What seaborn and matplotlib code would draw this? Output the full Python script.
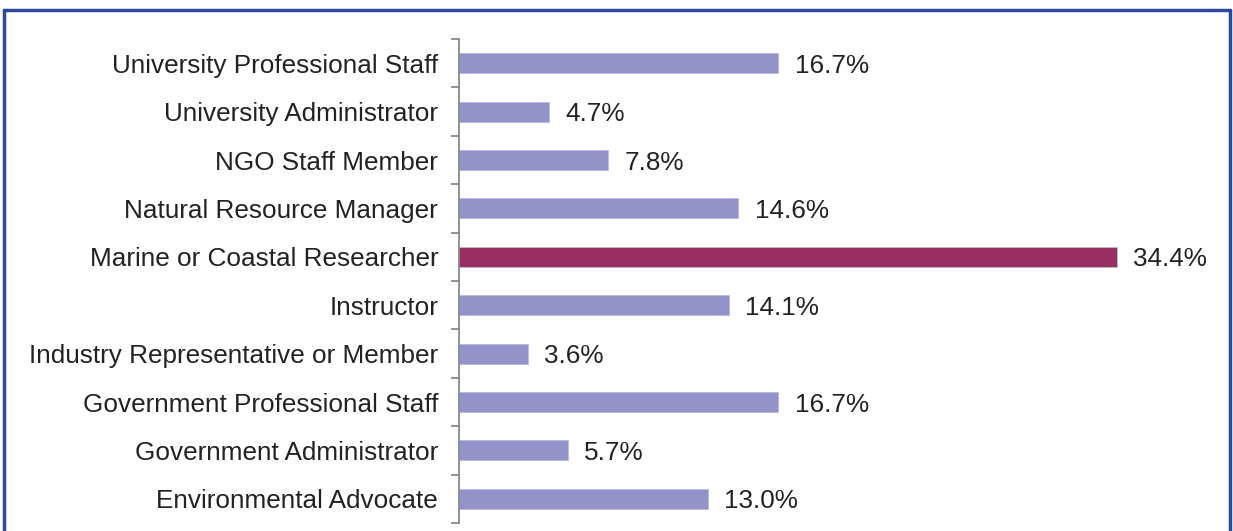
import matplotlib
matplotlib.use("Agg")
import matplotlib.pyplot as plt
import seaborn as sns
import pandas as pd
import numpy as np

categories = [
    "University Professional Staff",
    "University Administrator",
    "NGO Staff Member",
    "Natural Resource Manager",
    "Marine or Coastal Researcher",
    "Instructor",
    "Industry Representative or Member",
    "Government Professional Staff",
    "Government Administrator",
    "Environmental Advocate",
]
values = [16.7, 4.7, 7.8, 14.6, 34.4, 14.1, 3.6, 16.7, 5.7, 13.0]
labels = ["16.7%", "4.7%", "7.8%", "14.6%", "34.4%", "14.1%", "3.6%", "16.7%", "5.7%", "13.0%"]
highlight = "Marine or Coastal Researcher"

sns.set_theme(style="white")
plt.rcParams["font.family"] = ["Liberation Sans", "DejaVu Sans"]

df = pd.DataFrame({"category": categories, "value": values})
df["group"] = np.where(df["category"] == highlight, "hi", "lo")

W, H = 1233, 531
fig = plt.figure(figsize=(W / 100, H / 100), dpi=100)
fig.patch.set_facecolor("white")

left_px, right_px = 459, 1200
top_px, bot_px = 39, 523
ax = fig.add_axes([left_px / W, 1 - bot_px / H, (right_px - left_px) / W, (bot_px - top_px) / H])

sns.barplot(data=df, y="category", x="value", hue="group", order=categories,
            palette={"lo": "#9393c9", "hi": "#992e62"}, dodge=False, legend=False,
            saturation=1, width=0.41, edgecolor="#b8b8dc", linewidth=0.6, ax=ax, orient="h")

px_per_unit = 19.13
ax.set_xlim(0, (right_px - left_px) / px_per_unit)
ax.set_ylim(len(categories) - 0.5, -0.5)

fs = 18.8
for i, (v, lab) in enumerate(zip(values, labels)):
    ax.text(v + 0.85, i, lab, va="center_baseline", ha="left", fontsize=fs, color="#222222")

ax.set_xlabel("")
ax.set_ylabel("")
ax.set_xticks([])
ax.set_yticks(range(len(categories)))
ax.set_yticklabels(categories, fontsize=fs, color="#222222")
ax.tick_params(axis="y", which="major", length=0, pad=15)
ax.set_yticks(np.arange(-0.5, len(categories), 1.0), minor=True)
ax.tick_params(axis="y", which="minor", length=6, width=1.2, color="#808080", direction="out", left=True)
for s in ["top", "right", "bottom"]:
    ax.spines[s].set_visible(False)
ax.spines["left"].set_color("#808080")
ax.spines["left"].set_linewidth(1.2)

# blue frame around the figure (bottom cut off)
frame_color = "#2b4a9b"
fig.add_artist(plt.Line2D([4 / W, 4 / W], [0, 1 - 10 / H], color=frame_color, lw=2.5, transform=fig.transFigure))
fig.add_artist(plt.Line2D([4 / W, 1230 / W], [1 - 10 / H, 1 - 10 / H], color=frame_color, lw=2.5, transform=fig.transFigure))
fig.add_artist(plt.Line2D([1230 / W, 1230 / W], [0, 1 - 10 / H], color=frame_color, lw=2.5, transform=fig.transFigure))

fig.savefig("out.png", dpi=100, facecolor="white")
